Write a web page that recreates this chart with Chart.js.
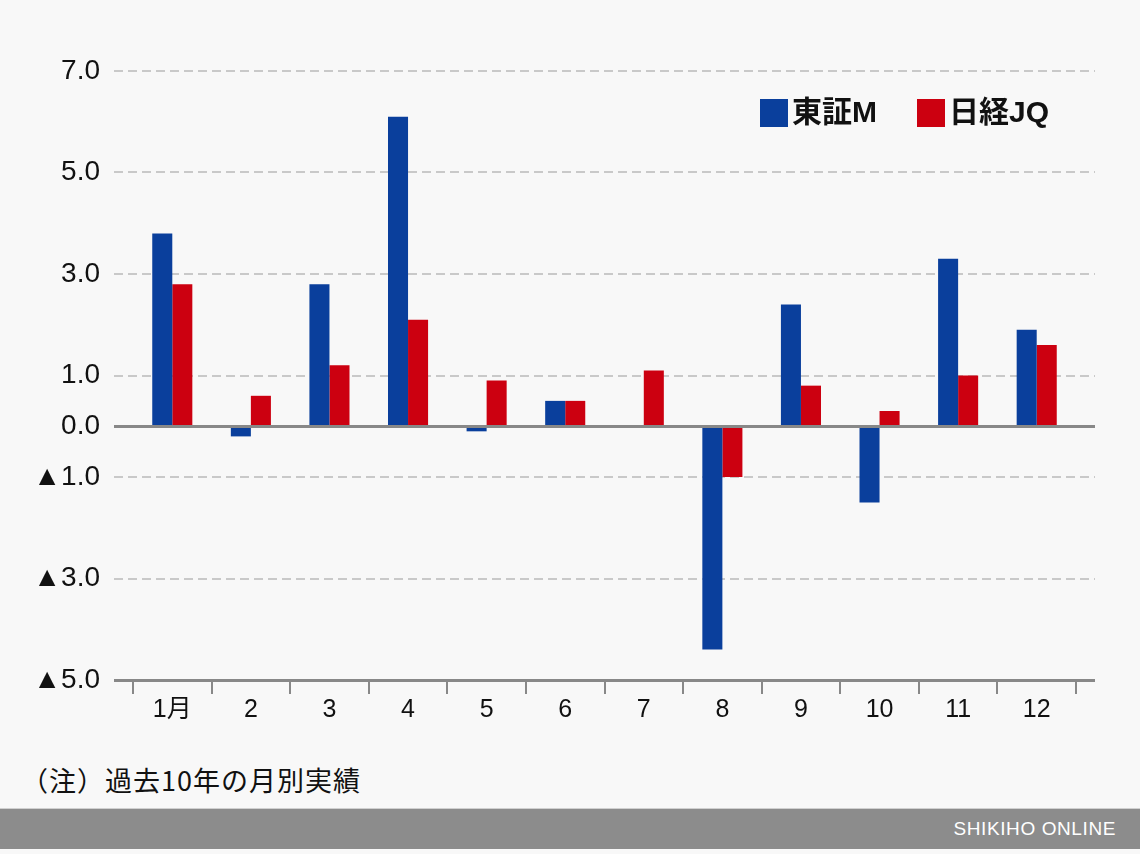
<!DOCTYPE html>
<html lang="ja">
<head>
<meta charset="utf-8">
<script src="https://cdn.jsdelivr.net/npm/chart.js@4/dist/chart.umd.min.js"></script>
<style>
  html, body { margin: 0; padding: 0; background: #f8f8f8; }
  #wrap { position: relative; width: 1140px; height: 854px; overflow: hidden; }
  #box { position: absolute; left: 0; top: 0; width: 1140px; height: 760px; }
  #note {
    position: absolute; left: 21px; top: 760px;
    font: 27px 'Noto Sans CJK JP', sans-serif; color: #111; letter-spacing: 1px;
  }
  #foot {
    position: absolute; left: 0; top: 808px; width: 1140px; height: 40px;
    background: #8c8c8c; border-top: 1px solid #d0d0d0;
  }
  #foot span {
    position: absolute; right: 24px; top: 9px;
    font: 19px 'Liberation Sans', Arial, sans-serif; color: #fff; letter-spacing: 0.6px;
  }
</style>
</head>
<body>
<div id="wrap">
  <div id="box"><canvas id="chartRenraku"></canvas></div>
  <div id="note">（注）過去10年の月別実績</div>
  <div id="foot"><span>SHIKIHO ONLINE</span></div>
</div>
<script>
const meses = ['1月', '2', '3', '4', '5', '6', '7', '8', '9', '10', '11', '12'];
const tosyoM = [3.8, -0.2, 2.8, 6.1, -0.1, 0.5, 0, -4.4, 2.4, -1.5, 3.3, 1.9];
const nikkeiJQ = [2.8, 0.6, 1.2, 2.1, 0.9, 0.5, 1.1, -1.0, 0.8, 0.3, 1.0, 1.6];
const yTicks = [7, 5, 3, 1, 0, -1, -3, -5];

const colorAzul = '#0a3f9c';
const colorRojo = '#cc0010';
const fuente = "'Liberation Sans', 'Noto Sans CJK JP', sans-serif";

// horizontal lines: dashed grid, zero line and bottom axis (wider than the category band)
const lineasPlugin = {
    id: 'lineas',
    beforeDatasetsDraw(chart) {
        const { ctx, chartArea, scales } = chart;
        const x0 = chartArea.left - 19;
        const x1 = chartArea.right + 19;
        ctx.save();
        ctx.strokeStyle = '#c9c9c9';
        ctx.lineWidth = 2;
        ctx.setLineDash([9, 5]);
        yTicks.forEach(v => {
            if (v === 0 || v === -5) return;
            const y = Math.round(scales.y.getPixelForValue(v));
            ctx.beginPath();
            ctx.moveTo(x0, y);
            ctx.lineTo(x1, y);
            ctx.stroke();
        });
        ctx.restore();
    },
    afterDatasetsDraw(chart) {
        const { ctx, chartArea, scales } = chart;
        const x0 = chartArea.left - 19;
        const x1 = chartArea.right + 19;
        ctx.save();
        ctx.strokeStyle = '#888888';
        ctx.lineWidth = 3;
        [0, -5].forEach(v => {
            const y = Math.round(scales.y.getPixelForValue(v)) + 0.5;
            ctx.beginPath();
            ctx.moveTo(x0, y);
            ctx.lineTo(x1, y);
            ctx.stroke();
        });
        ctx.restore();
    }
};

// legend in the upper right, inside the plot
const leyendaPlugin = {
    id: 'leyenda',
    afterDraw(chart) {
        const { ctx, chartArea } = chart;
        const items = chart.data.datasets;
        const pos = [chartArea.right - 316, chartArea.right - 159];
        ctx.save();
        ctx.font = "bold 30px 'Liberation Sans', 'Noto Sans CJK JP', sans-serif";
        ctx.textBaseline = 'middle';
        items.forEach((ds, i) => {
            ctx.fillStyle = ds.backgroundColor;
            ctx.fillRect(pos[i], 99, 28, 28);
            ctx.fillStyle = '#111';
            ctx.fillText(ds.label, pos[i] + 32, 114);
        });
        ctx.restore();
    }
};

const canvas = document.getElementById('chartRenraku');
const ctx = canvas.getContext('2d');

const grafico = new Chart(ctx, {
    type: 'bar',
    data: {
        labels: meses,
        datasets: [
            { label: '東証M', data: tosyoM, backgroundColor: colorAzul },
            { label: '日経JQ', data: nikkeiJQ, backgroundColor: colorRojo }
        ]
    },
    options: {
        responsive: true,
        maintainAspectRatio: false,
        animation: false,
        layout: { padding: { top: 71, right: 64, left: 0, bottom: 0 } },
        datasets: { bar: { categoryPercentage: 0.51, barPercentage: 1.0 } },
        plugins: { legend: { display: false }, tooltip: { enabled: false } },
        scales: {
            x: {
                grid: {
                    offset: true,
                    drawOnChartArea: false,
                    drawTicks: true,
                    tickLength: 14,
                    color: '#888888',
                    lineWidth: 2
                },
                border: { display: false },
                ticks: { color: '#111', font: { family: fuente, size: 25 }, padding: 1 },
                afterFit: (s) => { s.height = 80; }
            },
            y: {
                min: -5,
                max: 7,
                grid: { display: false, drawTicks: false },
                border: { display: false },
                afterBuildTicks: (s) => { s.ticks = yTicks.map(v => ({ value: v })); },
                afterFit: (s) => { s.width = 133; },
                ticks: {
                    padding: 33,
                    color: '#111',
                    font: { family: "'Liberation Sans', 'DejaVu Sans', sans-serif", size: 28 },
                    callback: (v) => (v < 0 ? '▲' + Math.abs(v).toFixed(1) : v.toFixed(1))
                }
            }
        }
    },
    plugins: [lineasPlugin, leyendaPlugin]
});
</script>
</body>
</html>
